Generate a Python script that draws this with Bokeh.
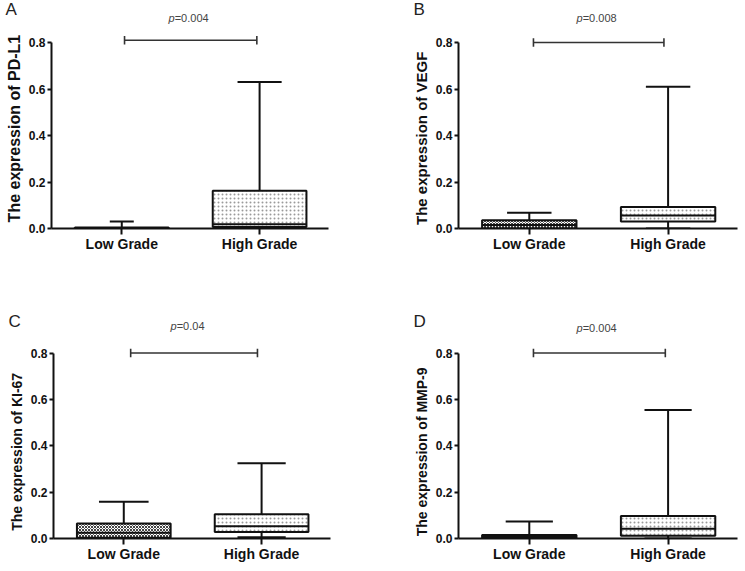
from bokeh.plotting import figure
from bokeh.layouts import column, row
from bokeh.models import Range1d, FixedTicker
from bokeh.core.properties import value
from bokeh.embed import file_html
from bokeh.resources import INLINE

# ---------------- data ----------------
groups = ["Low Grade", "High Grade"]
group_pos = [0, 1]
panel_letters = ["A", "B", "C", "D"]
markers = ["PD-L1", "VEGF", "KI-67", "MMP-9"]
p_values = ["0.004", "0.008", "0.04", "0.004"]
y_ticks = [0.0, 0.2, 0.4, 0.6, 0.8]
y_tick_labels = ["0.0", "0.2", "0.4", "0.6", "0.8"]

# [Low Grade, High Grade]
pdl1_min = [0.0, 0.0]
pdl1_q1 = [0.0, 0.006]
pdl1_med = [0.002, 0.018]
pdl1_q3 = [0.004, 0.162]
pdl1_max = [0.03, 0.63]

vegf_min = [0.0, 0.0]
vegf_q1 = [0.0, 0.03]
vegf_med = [0.015, 0.056]
vegf_q3 = [0.035, 0.093]
vegf_max = [0.068, 0.61]

ki67_min = [0.0, 0.005]
ki67_q1 = [0.003, 0.028]
ki67_med = [0.025, 0.053]
ki67_q3 = [0.065, 0.105]
ki67_max = [0.158, 0.325]

mmp9_min = [0.0, 0.0]
mmp9_q1 = [0.002, 0.012]
mmp9_med = [0.008, 0.042]
mmp9_q3 = [0.015, 0.097]
mmp9_max = [0.073, 0.554]

stats = [
    (pdl1_min, pdl1_q1, pdl1_med, pdl1_q3, pdl1_max),
    (vegf_min, vegf_q1, vegf_med, vegf_q3, vegf_max),
    (ki67_min, ki67_q1, ki67_med, ki67_q3, ki67_max),
    (mmp9_min, mmp9_q1, mmp9_med, mmp9_q3, mmp9_max),
]

# ---------------- styles / layout ----------------
FONT = "Liberation Sans"
INK = "#111111"
BOX_HALF = 0.34
CAP_HALF = [[0.087, 0.16], [0.16, 0.16], [0.18, 0.175], [0.17, 0.17]]
BAR_Y = [0.81, 0.8, 0.8, 0.8]
BAR_X = [[0.02, 0.98], [0.03, 0.97], [0.05, 0.97], [0.03, 0.98]]
P_Y = [0.907, 0.907, 0.918, 0.909]
YLABEL_SIZE = ["16px", "15px", "14px", "14px"]
YLABEL_PAD = [5, 10, 12, 12]   # trailing no-break spaces: nudges the rotated label downward
LOW_HATCH = dict(hatch_pattern="diagonal_cross", hatch_scale=3, hatch_color="#444444", hatch_weight=1)
HIGH_HATCH = dict(hatch_pattern="dot", hatch_scale=4, hatch_color="#9a9a9a", hatch_weight=1)

# geometry: (width, height, left, right, top, bottom, y_end, letter_offset)
GEOM = [
    (372, 312, 51, 44, 6, 84, 0.955, -46),
    (373, 312, 86, 8, 6, 84, 0.955, -45),
    (372, 259, 53, 42, 6, 33, 0.949, -45),
    (373, 259, 86, 8, 6, 33, 0.949, -45),
]


def make_panel(i):
    w, h, bl, br, bt, bb, yend, loff = GEOM[i]
    mn, q1, med, q3, mx = stats[i]
    p = figure(width=w, height=h, x_range=Range1d(-0.51, 1.5), y_range=Range1d(0, yend),
               output_backend="svg", toolbar_location=None, title=panel_letters[i],
               min_border_left=bl, min_border_right=br, min_border_top=bt, min_border_bottom=bb)
    p.outline_line_color = None
    p.xgrid.visible = False
    p.ygrid.visible = False
    p.background_fill_color = "white"
    p.border_fill_color = "white"

    # panel letter (title hanging into the plot's top-left corner)
    p.title.align = "left"
    p.title.offset = loff
    p.title.standoff = -25
    p.title.text_font = FONT
    p.title.text_font_style = "normal"
    p.title.text_font_size = "17px"
    p.title.text_color = "#222222"

    # axes
    xa = p.xaxis[0]
    xa.ticker = FixedTicker(ticks=group_pos)
    xa.major_label_overrides = {pos: g for pos, g in zip(group_pos, groups)}
    xa.axis_line_width = 2
    xa.axis_line_color = INK
    xa.major_tick_line_width = 2
    xa.major_tick_line_color = INK
    xa.major_tick_in = 0
    xa.major_tick_out = 6
    xa.minor_tick_line_color = None
    xa.major_label_standoff = 1
    xa.major_label_text_font = FONT
    xa.major_label_text_font_style = "bold"
    xa.major_label_text_font_size = "14px"
    xa.major_label_text_color = INK

    ya = p.yaxis[0]
    ya.ticker = FixedTicker(ticks=y_ticks)
    ya.major_label_overrides = {t: l for t, l in zip(y_ticks, y_tick_labels)}
    ya.bounds = (y_ticks[0], y_ticks[-1])
    ya.axis_line_width = 2
    ya.axis_line_color = INK
    ya.major_tick_line_width = 2
    ya.major_tick_line_color = INK
    ya.major_tick_in = 0
    ya.major_tick_out = 4
    ya.minor_tick_line_color = None
    ya.major_label_standoff = 2
    ya.major_label_text_font = FONT
    ya.major_label_text_font_style = "bold"
    ya.major_label_text_font_size = "12px"
    ya.major_label_text_color = INK
    ya.axis_label = "The expression of " + markers[i] + "\u00a0" * YLABEL_PAD[i]
    ya.axis_label_text_font = FONT
    ya.axis_label_text_font_style = "bold"
    ya.axis_label_text_font_size = YLABEL_SIZE[i]
    ya.axis_label_text_color = INK
    ya.axis_label_standoff = 3

    # whiskers
    for k in range(2):
        x = group_pos[k]
        cw = CAP_HALF[i][k]
        p.segment(x0=[x, x], y0=[q3[k], q1[k]], x1=[x, x], y1=[mx[k], mn[k]],
                  line_color=INK, line_width=2)
        p.segment(x0=[x - cw, x - cw], y0=[mx[k], mn[k]], x1=[x + cw, x + cw], y1=[mx[k], mn[k]],
                  line_color=INK, line_width=2)

    # boxes
    for k, hatch in ((0, LOW_HATCH), (1, HIGH_HATCH)):
        x = group_pos[k]
        p.quad(left=[x - BOX_HALF], right=[x + BOX_HALF], bottom=[q1[k]], top=[q3[k]],
               fill_color="white", line_color=INK, line_width=2, **hatch)
        p.segment(x0=[x - BOX_HALF], y0=[med[k]], x1=[x + BOX_HALF], y1=[med[k]],
                  line_color=INK, line_width=2)

    # significance bar
    bx0, bx1 = BAR_X[i]
    by = BAR_Y[i]
    p.segment(x0=[bx0], y0=[by], x1=[bx1], y1=[by], line_color="#333333", line_width=1.6)
    p.segment(x0=[bx0, bx1], y0=[by - 0.018, by - 0.018], x1=[bx0, bx1], y1=[by + 0.018, by + 0.018],
              line_color="#333333", line_width=1.6)

    # p-value label
    xc = (group_pos[0] + group_pos[1]) / 2
    p.text(x=[xc], y=[P_Y[i]], text=["p"], x_offset=-16, text_align="right",
           text_baseline="middle", text_font=value(FONT), text_font_style="italic",
           text_font_size="11px", text_color="#444444")
    p.text(x=[xc], y=[P_Y[i]], text=["=" + p_values[i]], x_offset=-16, text_align="left",
           text_baseline="middle", text_font=value(FONT), text_font_size="11px",
           text_color="#444444")
    return p


panels = [make_panel(i) for i in range(4)]
layout = column(row(panels[0], panels[1]), row(panels[2], panels[3]))

open("out.html", "w").write(file_html(layout, INLINE))
